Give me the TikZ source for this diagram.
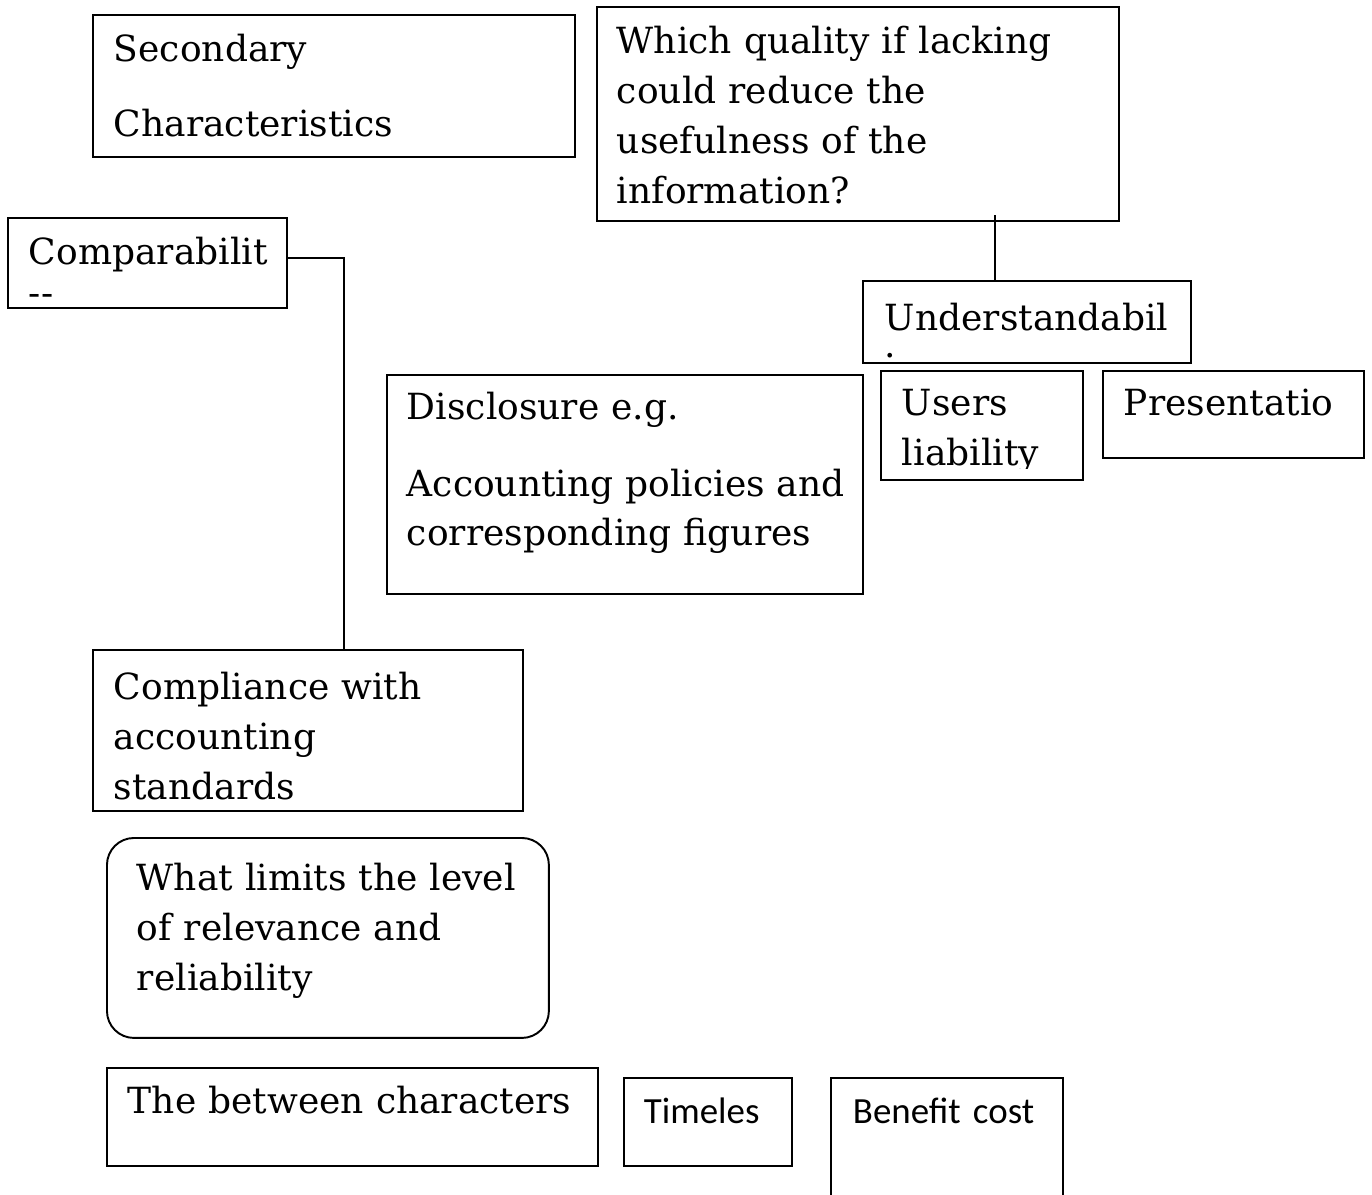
\documentclass[tikz,border=0pt]{standalone}
\usepackage{fontspec}
\setmainfont{DejaVu Serif}
\newfontfamily\calibri{Carlito}
\usetikzlibrary{positioning}

\begin{document}
\begin{tikzpicture}[x=0.02cm, y=-0.02cm, line width=1.1pt,
    box/.style={draw, rectangle, anchor=north west, align=left, inner ysep=0pt, font=\fontsize{20.5}{28.3}\selectfont}]
    \useasboundingbox (0,0) rectangle (1372,1194);

    \node (second) [box, inner xsep=0.42cm, text width=8.8cm, text height=0.94cm, text depth=1.9cm] at (92,14) {Secondary\\[14pt]Characteristics};
    \node (which) [box, inner xsep=0.4cm, text width=9.64cm, text height=0.94cm, text depth=3.34cm] at (596,6) {Which quality if lacking\\could reduce the\\usefulness of the\\information?};
    \node (compar) [box, inner xsep=0.42cm, text width=4.74cm, text height=0.94cm, text depth=0.86cm] at (7,217) {Comparabilit\\[-5pt]-{}-};
    \node (underst) [box, inner xsep=0.44cm, text width=5.68cm, text height=1.0cm, text depth=0.64cm] at (862,280) {Understandabil\\[-13pt].};
    \node (disclose) [box, inner xsep=0.4cm, text width=8.72cm, text height=0.9cm, text depth=3.48cm] at (386,374) {Disclosure e.g.\\[15pt]\mbox{Accounting policies and}\\corresponding figures};
    \node (users) [box, inner xsep=0.42cm, text width=3.2cm, text height=0.9cm, text depth=1.28cm] at (880,370) {Users\\liability};
    \node (present) [box, inner xsep=0.42cm, text width=4.38cm, text height=0.9cm, text depth=0.84cm] at (1102,370) {Presentatio};
    \node (comply) [box, inner xsep=0.42cm, text width=7.76cm, text height=1.0cm, text depth=2.22cm] at (92,649) {Compliance with\\accounting\\standards};
    \node (limits) [box, rounded corners=0.54cm, inner xsep=0.6cm, text width=7.64cm, text height=1.06cm, text depth=2.94cm] at (106,837) {What limits the level\\of relevance and\\reliability};
    \node (between) [box, inner xsep=0.42cm, text width=8.98cm, text height=0.92cm, text depth=1.04cm] at (106,1067) {The between characters};
    \node (timely) [box, font=\calibri\fontsize{21}{26}\selectfont, inner xsep=0.4cm, text width=2.56cm, text height=0.92cm, text depth=0.84cm] at (623,1077) {Timeles};
    \node (benefit) [box, font=\calibri\fontsize{21}{26}\selectfont, inner xsep=0.44cm, text width=3.76cm, text height=0.92cm, text depth=1.88cm] at (830,1077) {Benefit cost};

    % text of the users box is cut off above its lower edge
    \fill[white] ([xshift=0.06cm, yshift=0.05cm]users.south west) rectangle ([xshift=-0.06cm, yshift=0.24cm]users.south east);

    \draw ([yshift=0.1cm]compar.east) -| ([xshift=0.72cm]comply.north);
    \draw[shorten >=-0.14cm] ([xshift=-0.64cm]underst.north) -- ([xshift=-0.64cm]underst.north |- which.south);
\end{tikzpicture}
\end{document}
